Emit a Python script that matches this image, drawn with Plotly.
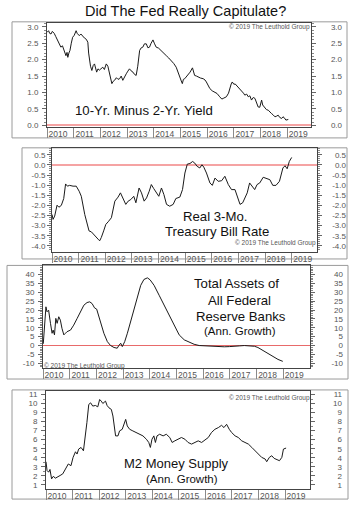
import plotly.graph_objects as go

W, H = 350, 511

# ---------------- data ----------------
years = list(range(2010, 2020))
year_labels = [str(y) for y in years]

spread_x = [2010.00, 2010.06, 2010.10, 2010.15, 2010.20, 2010.27, 2010.33, 2010.40, 2010.46, 2010.52,
            2010.58, 2010.65, 2010.71, 2010.75, 2010.78, 2010.82, 2010.86, 2010.91, 2010.96, 2011.02,
            2011.09, 2011.13, 2011.21, 2011.27, 2011.34, 2011.40, 2011.47, 2011.53, 2011.56, 2011.59,
            2011.63, 2011.68, 2011.73, 2011.78, 2011.82, 2011.86, 2011.91, 2011.96, 2012.02, 2012.09,
            2012.15, 2012.22, 2012.28, 2012.34, 2012.39, 2012.43, 2012.48, 2012.53, 2012.60, 2012.66,
            2012.72, 2012.78, 2012.84, 2012.90, 2012.97, 2013.03, 2013.09, 2013.15, 2013.22, 2013.28,
            2013.34, 2013.40, 2013.47, 2013.53, 2013.59, 2013.65, 2013.72, 2013.78, 2013.84, 2013.90,
            2013.97, 2014.03, 2014.09, 2014.18, 2014.28, 2014.37, 2014.47, 2014.56, 2014.66, 2014.75,
            2014.84, 2014.90, 2014.97, 2015.03, 2015.07, 2015.11, 2015.16, 2015.22, 2015.28, 2015.36,
            2015.45, 2015.49, 2015.53, 2015.60, 2015.66, 2015.75, 2015.85, 2015.92, 2015.97, 2016.04,
            2016.10, 2016.19, 2016.28, 2016.37, 2016.47, 2016.55, 2016.60, 2016.66, 2016.72, 2016.80,
            2016.85, 2016.90, 2016.94, 2017.00, 2017.05, 2017.10, 2017.16, 2017.22, 2017.30, 2017.36,
            2017.41, 2017.48, 2017.54, 2017.60, 2017.66, 2017.73, 2017.79, 2017.85, 2017.91, 2017.97,
            2018.04, 2018.08, 2018.12, 2018.16, 2018.22, 2018.29, 2018.35, 2018.41, 2018.47, 2018.54,
            2018.60, 2018.66, 2018.72, 2018.79, 2018.84, 2018.88, 2018.95, 2019.00, 2019.04]
spread_y = [2.83, 2.88, 2.80, 2.78, 2.86, 2.80, 2.70, 2.58, 2.50, 2.38,
            2.42, 2.28, 2.12, 2.22, 2.07, 2.20, 2.28, 2.50, 2.68, 2.74,
            2.88, 2.80, 2.73, 2.78, 2.70, 2.66, 2.62, 2.53, 2.20, 1.97,
            1.80, 1.67, 1.82, 1.87, 1.70, 1.62, 1.72, 1.68, 1.72, 1.77,
            1.70, 1.87, 1.80, 1.57, 1.40, 1.27, 1.34, 1.37, 1.45, 1.40,
            1.42, 1.50, 1.37, 1.48, 1.57, 1.65, 1.72, 1.66, 1.62, 1.55,
            1.52, 1.80, 2.28, 2.36, 2.38, 2.48, 2.48, 2.36, 2.38, 2.50,
            2.60, 2.48, 2.38, 2.35, 2.28, 2.20, 2.12, 2.05, 1.97, 1.88,
            1.77, 1.62, 1.47, 1.35, 1.27, 1.40, 1.42, 1.48, 1.52, 1.62,
            1.75, 1.62, 1.52, 1.50, 1.47, 1.44, 1.42, 1.38, 1.32, 1.22,
            1.12, 1.05, 1.02, 0.97, 0.87, 0.80, 0.82, 0.84, 0.87, 0.98,
            1.17, 1.26, 1.32, 1.25, 1.26, 1.22, 1.15, 1.12, 1.05, 0.98,
            0.92, 0.95, 0.87, 0.90, 0.77, 0.85, 0.82, 0.70, 0.56, 0.55,
            0.77, 0.62, 0.58, 0.51, 0.48, 0.46, 0.40, 0.36, 0.32, 0.26,
            0.28, 0.31, 0.24, 0.21, 0.26, 0.24, 0.16, 0.18, 0.18]

tbill_x = [2010.00, 2010.04, 2010.10, 2010.19, 2010.26, 2010.35, 2010.44, 2010.51, 2010.58, 2010.66,
           2010.79, 2010.91, 2011.02, 2011.10, 2011.23, 2011.32, 2011.39, 2011.48, 2011.60, 2011.73,
           2011.79, 2011.85, 2011.94, 2012.02, 2012.11, 2012.23, 2012.36, 2012.48, 2012.57, 2012.67,
           2012.77, 2012.86, 2012.96, 2013.07, 2013.15, 2013.27, 2013.36, 2013.46, 2013.55, 2013.65,
           2013.73, 2013.82, 2013.92, 2014.01, 2014.11, 2014.20, 2014.30, 2014.42, 2014.55, 2014.65,
           2014.80, 2014.90, 2014.99, 2015.08, 2015.18, 2015.28, 2015.36, 2015.45, 2015.55, 2015.63,
           2015.70, 2015.80, 2015.93, 2016.02, 2016.12, 2016.24, 2016.37, 2016.49, 2016.62, 2016.74,
           2016.87, 2016.95, 2017.06, 2017.16, 2017.24, 2017.33, 2017.42, 2017.52, 2017.61, 2017.70,
           2017.80, 2017.93, 2018.06, 2018.18, 2018.29, 2018.41, 2018.54, 2018.67, 2018.75, 2018.83,
           2018.91, 2019.00]
tbill_y = [-2.45, -2.69, -2.53, -1.99, -2.09, -2.00, -1.66, -0.94, -1.05, -1.01,
           -1.05, -1.05, -1.30, -1.55, -2.45, -2.94, -3.26, -3.31, -3.51, -3.67,
           -3.75, -3.59, -3.26, -2.94, -2.81, -2.61, -1.79, -1.59, -1.38, -1.71,
           -1.95, -1.79, -1.71, -1.55, -1.87, -1.14, -1.38, -1.79, -1.63, -1.30,
           -0.97, -1.17, -1.38, -1.55, -1.14, -1.46, -1.95, -2.04, -1.95, -1.66,
           -1.59, -1.22, -0.40, 0.04, 0.07, 0.17, 0.09, -0.07, -0.15, 0.01,
           -0.11, -0.40, -0.89, -1.01, -0.65, -0.81, -0.78, -0.56, -0.97, -1.22,
           -1.22, -1.55, -1.95, -1.87, -1.63, -1.38, -0.89, -1.05, -1.22, -0.97,
           -0.89, -0.61, -0.68, -0.73, -1.01, -1.01, -0.81, -0.15, -0.04, -0.19,
           0.17, 0.37]

fed_x = [2010.01, 2010.06, 2010.11, 2010.15, 2010.21, 2010.28, 2010.34, 2010.38, 2010.43, 2010.48,
         2010.53, 2010.59, 2010.65, 2010.71, 2010.78, 2010.84, 2010.90, 2011.03, 2011.15, 2011.28,
         2011.40, 2011.53, 2011.65, 2011.75, 2011.84, 2011.93, 2012.01, 2012.06, 2012.16, 2012.28,
         2012.41, 2012.53, 2012.66, 2012.78, 2012.84, 2012.91, 2012.97, 2013.06, 2013.16, 2013.28,
         2013.41, 2013.53, 2013.66, 2013.78, 2013.91, 2014.01, 2014.16, 2014.35, 2014.54, 2014.72,
         2014.91, 2015.10, 2015.29, 2015.48, 2015.66, 2015.85, 2016.04, 2016.23, 2016.42, 2016.60,
         2016.79, 2016.98, 2017.17, 2017.36, 2017.54, 2017.73, 2017.92, 2018.05, 2018.23, 2018.42,
         2018.61, 2018.80, 2018.98]
fed_y = [1.0, 11.5, 21.8, 19.0, 19.9, 12.5, 6.9, 8.7, 6.0, 15.3,
         12.5, 16.2, 14.3, 9.7, 6.0, 6.9, 7.8, 8.7, 11.5, 15.3,
         19.0, 22.7, 24.2, 24.6, 23.6, 21.2, 20.5, 18.0, 13.4, 6.9,
         2.2, 0.0, -1.1, -1.5, 0.0, 1.3, -0.6, 2.2, 6.9, 13.4,
         20.8, 28.3, 33.9, 37.2, 38.1, 37.0, 33.9, 28.3, 22.7, 17.1,
         11.5, 6.0, 3.2, 1.7, 0.7, 0.0, -0.2, -0.4, -0.6, -0.6,
         -0.7, -0.6, -0.2, -0.2, 0.0, -0.2, -0.4, -1.1, -2.8, -4.5,
         -6.1, -7.8, -8.9]

m2_x = [2010.00, 2010.04, 2010.10, 2010.15, 2010.21, 2010.28, 2010.35, 2010.44, 2010.53, 2010.63,
        2010.69, 2010.76, 2010.84, 2010.94, 2011.02, 2011.11, 2011.17, 2011.23, 2011.32, 2011.41,
        2011.49, 2011.54, 2011.61, 2011.68, 2011.76, 2011.86, 2011.95, 2012.02, 2012.08, 2012.14,
        2012.24, 2012.30, 2012.37, 2012.46, 2012.52, 2012.58, 2012.62, 2012.71, 2012.77, 2012.87,
        2012.96, 2013.00, 2013.06, 2013.15, 2013.27, 2013.40, 2013.53, 2013.65, 2013.78, 2013.87,
        2013.93, 2013.99, 2014.06, 2014.12, 2014.18, 2014.28, 2014.41, 2014.53, 2014.66, 2014.75,
        2014.85, 2014.97, 2015.10, 2015.23, 2015.35, 2015.48, 2015.60, 2015.73, 2015.86, 2015.98,
        2016.11, 2016.23, 2016.36, 2016.49, 2016.61, 2016.70, 2016.80, 2016.90, 2016.99, 2017.12,
        2017.24, 2017.37, 2017.49, 2017.62, 2017.75, 2017.87, 2018.00, 2018.12, 2018.25, 2018.31,
        2018.41, 2018.50, 2018.59, 2018.69, 2018.79, 2018.88, 2018.94, 2019.04]
m2_y = [3.55, 2.58, 2.40, 2.70, 1.66, 1.95, 1.73, 1.84, 2.03, 2.21,
        2.58, 2.94, 3.31, 3.12, 4.04, 4.66, 4.41, 4.96, 5.14, 4.77,
        6.42, 7.89, 9.90, 10.08, 9.72, 9.79, 9.64, 10.45, 10.27, 10.01,
        10.27, 9.79, 9.53, 9.35, 8.62, 7.52, 6.42, 6.42, 6.97, 7.15,
        7.89, 8.25, 7.52, 7.15, 6.97, 6.79, 6.60, 6.42, 6.05, 5.69,
        5.14, 6.05, 6.42, 5.69, 6.42, 6.60, 6.42, 6.60, 6.24, 5.69,
        5.87, 6.05, 6.24, 6.05, 5.69, 5.51, 5.69, 5.87, 5.69, 5.98,
        6.24, 6.79, 7.15, 7.34, 7.59, 7.34, 7.70, 7.15, 6.79, 6.42,
        6.24, 5.87, 5.69, 5.51, 5.14, 4.77, 4.41, 4.04, 3.86, 3.56,
        4.04, 4.22, 3.93, 3.78, 3.67, 4.04, 4.96, 5.07]

spread_ticks = [0.0, 0.5, 1.0, 1.5, 2.0, 2.5, 3.0]
spread_labels = ["0.0", "0.5", "1.0", "1.5", "2.0", "2.5", "3.0"]
tbill_ticks = [0.5, 0.0, -0.5, -1.0, -1.5, -2.0, -2.5, -3.0, -3.5, -4.0]
tbill_labels = ["0.5", "0.0", "-0.5", "-1.0", "-1.5", "-2.0", "-2.5", "-3.0", "-3.5", "-4.0"]
fed_ticks = [40, 35, 30, 25, 20, 15, 10, 5, 0, -5, -10]
fed_labels = ["40", "35", "30", "25", "20", "15", "10", "5", "0", "-5", "-10"]
m2_ticks = [11, 10, 9, 8, 7, 6, 5, 4, 3, 2, 1]
m2_labels = ["11", "10", "9", "8", "7", "6", "5", "4", "3", "2", "1"]

# ---------------- layout helpers ----------------
def PX(px):
    return px / W

def PY(py):
    return 1 - py / H

FONT = "Liberation Sans"
TICKC = "#555555"

panels = [
    dict(x=spread_x, y=spread_y, tv=spread_ticks, tt=spread_labels,
         box=(12, 21, 347, 138), plot=(47, 22, 311, 127), yr=(-0.05, 3.12), xr=(2010, 2019.89),
         minor=0.1, zero="#f5a3a3", zw=2, rlab=340, lso=2),
    dict(x=tbill_x, y=tbill_y, tv=tbill_ticks, tt=tbill_labels,
         box=(22, 148, 347, 260), plot=(52, 148.5, 317, 252.5), yr=(-4.28, 0.82), xr=(2010, 2019.95),
         minor=0.1, zero="#f5a3a3", zw=2, rlab=344, lso=0),
    dict(x=fed_x, y=fed_y, tv=fed_ticks, tt=fed_labels,
         box=(7, 266.5, 348, 381), plot=(43, 266.5, 310, 370), yr=(-12.7, 45.1), xr=(2010, 2020.0),
         minor=1, zero="#e86a6a", zw=1, rlab=341, lso=2),
    dict(x=m2_x, y=m2_y, tv=m2_ticks, tt=m2_labels,
         box=(12, 392, 348, 502), plot=(46, 393, 310, 492), yr=(0.52, 11.4), xr=(2010, 2019.94),
         minor=0.5, zero=None, zw=0, rlab=340, lso=2),
]

fig = go.Figure()
shapes = []
layout = dict(
    width=W, height=H, margin=dict(l=0, r=0, t=0, b=0, pad=0), autosize=False,
    paper_bgcolor="white", plot_bgcolor="white", showlegend=False,
)

for i, p in enumerate(panels, start=1):
    xa = "x" if i == 1 else f"x{i}"
    ya = "y" if i == 1 else f"y{i}"
    yr_name = f"y{i + 4}"
    fig.add_trace(go.Scatter(x=p["x"], y=p["y"], mode="lines", xaxis=xa, yaxis=ya,
                             line=dict(color="#1a1a1a", width=1), hoverinfo="skip"))
    # companion (invisible) trace for the right-hand label axis
    fig.add_trace(go.Scatter(x=p["x"], y=p["y"], mode="lines", xaxis=xa, yaxis=yr_name,
                             line=dict(color="rgba(0,0,0,0)", width=0), hoverinfo="skip"))
    x0, y0, x1, y1 = p["plot"]
    layout["xaxis" if i == 1 else f"xaxis{i}"] = dict(
        domain=[PX(x0), PX(x1)], anchor=ya, range=list(p["xr"]),
        tickmode="array", tickvals=years, ticktext=year_labels,
        ticks="outside", ticklen=10, tickwidth=1, tickcolor="#8a8a8a",
        ticklabelshift=11, ticklabelstandoff=-11,
        tickfont=dict(family=FONT, size=8.5, color=TICKC),
        showline=True, linecolor="#444444", linewidth=1, mirror=True,
        showgrid=False, zeroline=False, fixedrange=True,
    )
    ydict = dict(
        domain=[PY(y1), PY(y0)], anchor=xa, range=list(p["yr"]),
        tickmode="array", tickvals=p["tv"], ticktext=p["tt"],
        ticks="outside", ticklen=4, tickwidth=1, tickcolor="#666666",
        minor=dict(ticks="outside", ticklen=2, tickcolor="#888888", dtick=p["minor"], tick0=0, showgrid=False),
        ticklabelstandoff=p["lso"],
        tickfont=dict(family=FONT, size=8, color=TICKC),
        showline=True, linecolor="#444444", linewidth=1, mirror="ticks",
        showgrid=False, fixedrange=True,
    )
    if p["zero"]:
        ydict.update(zeroline=True, zerolinecolor=p["zero"], zerolinewidth=p["zw"])
    else:
        ydict.update(zeroline=False)
    layout["yaxis" if i == 1 else f"yaxis{i}"] = ydict
    layout[f"yaxis{i + 4}"] = dict(
        overlaying=ya, anchor="free", side="left", position=PX(p["rlab"] + 2),
        range=list(p["yr"]), tickmode="array", tickvals=p["tv"], ticktext=p["tt"],
        ticks="", showline=False, showgrid=False, zeroline=False, fixedrange=True,
        tickfont=dict(family=FONT, size=8, color=TICKC),
    )
    bx0, by0, bx1, by1 = p["box"]
    shapes.append(dict(type="rect", xref="paper", yref="paper",
                       x0=PX(bx0), x1=PX(bx1), y0=PY(by1), y1=PY(by0),
                       line=dict(color="#9a9a9a", width=1), layer="below"))

layout["shapes"] = shapes


def ann(text, px, py, size, color="#111111", family=FONT):
    return dict(text=text, x=PX(px), y=PY(py), xref="paper", yref="paper",
                xanchor="center", yanchor="middle", showarrow=False,
                font=dict(family=family, size=size, color=color))

COPY = "\u00a9 2019 The Leuthold Group"
annotations = [
    ann("Did The Fed Really Capitulate?", 185, 10.5, 14.5),
    ann("10-Yr. Minus 2-Yr. Yield", 143.5, 110.7, 13.2),
    ann(COPY, 269.5, 26.5, 6.5, "#555555"),
    ann("Real 3-Mo.", 215.5, 217.3, 13.2),
    ann("Treasury Bill Rate", 216.7, 232.3, 13.2),
    ann(COPY, 275.5, 243.5, 6.5, "#555555"),
    ann("Total Assets of", 236, 285, 13.2),
    ann("All Federal", 239, 301.7, 13.2),
    ann("Reserve Banks", 240.5, 318.3, 13.2),
    ann("(Ann. Growth)", 240, 332.7, 11.5),
    ann(COPY, 84, 367.5, 6.5, "#555555"),
    ann(COPY, 269.5, 400, 6.5, "#555555"),
    ann("M2 Money Supply", 176, 466, 13),
    ann("(Ann. Growth)", 181.7, 481.7, 11.5),
]
layout["annotations"] = annotations

fig.update_layout(**layout)
fig.write_html("out.html", config=dict(displayModeBar=False, staticPlot=True))
